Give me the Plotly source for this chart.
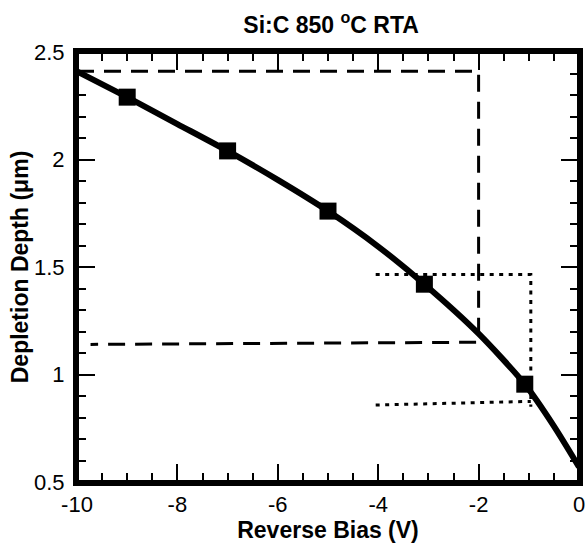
import plotly.graph_objects as go

# Data
curve_x = [-10, -9, -8, -7, -6, -5, -4, -3.08, -2, -1.08, -0.5, 0]
curve_y = [2.41, 2.29, 2.165, 2.04, 1.905, 1.76, 1.595, 1.42, 1.19, 0.955, 0.76, 0.57]
marker_x = [-9, -7, -5, -3.08, -1.08]
marker_y = [2.29, 2.04, 1.76, 1.42, 0.955]

dash_x = [-10, -2, -2, -9.73]
dash_y = [2.41, 2.41, 1.15, 1.14]
dot_x = [-4.05, -0.96, -0.96, None, -4.05, -0.96]
dot_y = [1.465, 1.465, 0.85, None, 0.858, 0.875]

x_tickvals = [-10, -8, -6, -4, -2, 0]
x_ticktext = ["-10", "-8", "-6", "-4", "-2", "0"]
y_tickvals = [0.5, 1, 1.5, 2, 2.5]
y_ticktext = ["0.5", "1", "1.5", "2", "2.5"]

FONT = "Liberation Sans, Arial, sans-serif"

fig = go.Figure()
fig.add_trace(go.Scatter(x=dash_x, y=dash_y, mode="lines",
                         line=dict(color="black", width=3, dash="17px,10px"),
                         showlegend=False, hoverinfo="skip"))
fig.add_trace(go.Scatter(x=dot_x, y=dot_y, mode="lines",
                         line=dict(color="black", width=3, dash="4px,5.5px"),
                         showlegend=False, hoverinfo="skip"))
fig.add_trace(go.Scatter(x=curve_x, y=curve_y, mode="lines",
                         line=dict(color="black", width=6, shape="spline", smoothing=0.7),
                         showlegend=False))
fig.add_trace(go.Scatter(x=marker_x, y=marker_y, mode="markers",
                         marker=dict(symbol="square", size=17, color="black"),
                         showlegend=False))

axis_common = dict(showline=True, linecolor="black", linewidth=4, mirror="allticks",
                   ticks="inside", ticklen=18, tickwidth=2, tickcolor="black",
                   showgrid=False, zeroline=False, automargin=False,
                   ticklabeloverflow="allow",
                   tickfont=dict(family=FONT, size=22, color="black"))

fig.update_xaxes(range=[-10, 0], tickmode="array", tickvals=x_tickvals, ticktext=x_ticktext,
                 minor=dict(dtick=0.5, tick0=-10, ticks="inside", ticklen=9, tickwidth=2, tickcolor="black", showgrid=False),
                 title=dict(text="<b>Reverse Bias (V)</b>", font=dict(family=FONT, size=23, color="black"), standoff=4),
                 ticklabelstandoff=0,
                 **axis_common)
fig.update_yaxes(range=[0.5, 2.5], tickmode="array", tickvals=y_tickvals, ticktext=y_ticktext,
                 minor=dict(dtick=0.1, tick0=0.5, ticks="inside", ticklen=9, tickwidth=2, tickcolor="black", showgrid=False),
                 title=dict(text="<b>Depletion Depth (μm)</b>", font=dict(family=FONT, size=23, color="black"), standoff=0),
                 ticklabelstandoff=4,
                 **axis_common)

# explicit frame around the plotting area
fig.add_shape(type="rect", xref="x domain", yref="y domain", x0=0, x1=1, y0=0, y1=1,
              line=dict(color="black", width=4), fillcolor="rgba(0,0,0,0)", layer="above")

fig.update_layout(
    width=586, height=544,
    margin=dict(l=77, r=7, t=52, b=62),
    plot_bgcolor="white", paper_bgcolor="white",
    title=dict(text="<b>Si:C 850 <sup>o</sup>C RTA</b>", x=0.565, xanchor="center",
               y=0.955, yanchor="middle",
               font=dict(family=FONT, size=23, color="black")),
)

fig.write_html("out.html")
